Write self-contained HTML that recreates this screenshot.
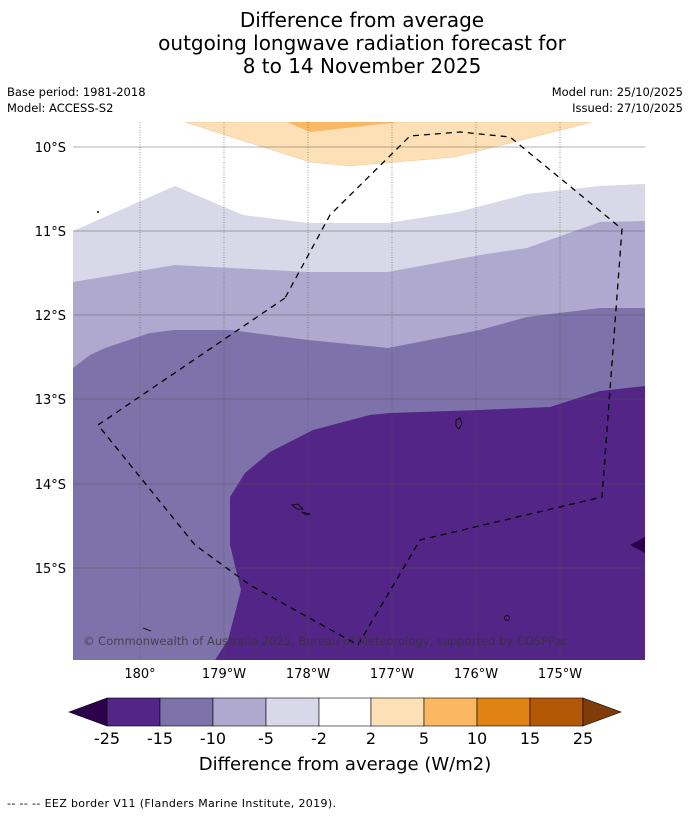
<!DOCTYPE html>
<html><head><meta charset="utf-8"><style>
body{margin:0;background:#fff;font-family:"DejaVu Sans","Liberation Sans",sans-serif;}
svg{display:block}
</style></head><body>
<svg width="690" height="816" viewBox="0 0 690 816" font-family="DejaVu Sans, Liberation Sans, sans-serif">
<text x="362" y="27" font-size="20" text-anchor="middle">Difference from average</text>
<text x="362" y="50" font-size="20" text-anchor="middle">outgoing longwave radiation forecast for</text>
<text x="362" y="73" font-size="20" text-anchor="middle">8 to 14 November 2025</text>
<text x="7" y="96" font-size="11.5">Base period: 1981-2018</text>
<text x="7" y="112" font-size="11.5">Model: ACCESS-S2</text>
<text x="683" y="96" font-size="11.5" text-anchor="end">Model run: 25/10/2025</text>
<text x="683" y="112" font-size="11.5" text-anchor="end">Issued: 27/10/2025</text>
<defs><clipPath id="mc"><rect x="73" y="122" width="572" height="538"/></clipPath></defs>
<g clip-path="url(#mc)">
<rect x="73" y="122" width="572" height="538" fill="#fff"/>
<polygon fill="#d8d8e8" points="73,231 175,186 243,215 308,223 388,223 458,212 527,194 600,186 645,184 645,660 73,660"/>
<polygon fill="#b0a9cf" points="73,282 175,265 308,272 388,272 480,255 527,248 600,222 645,221 645,660 73,660"/>
<polygon fill="#7e72aa" points="73,368 90,355 105,348 150,333 175,330 230,330 308,340 388,348 480,330 527,317 600,308 645,308 645,660 73,660"/>
<polygon fill="#532586" points="645,386 600,391 550,407 480,410 390,413 370,415 313,430 270,452 245,473 230,497 230,545 241,590 228,640 215,660 645,660"/>
<polygon fill="#2d004b" points="630,545 645,537 645,553"/>
<polygon fill="#fee0b6" stroke="#f0c89a" stroke-width="0.6" points="185,122 310,162 350,166 455,157 592,122"/>
<polygon fill="#fbb863" points="287,122 310,132 400,122"/>
<g stroke="#555" stroke-opacity="0.45" stroke-width="1">
<line x1="73" y1="147" x2="645" y2="147"/><line x1="73" y1="231" x2="645" y2="231"/><line x1="73" y1="315" x2="645" y2="315"/><line x1="73" y1="399" x2="645" y2="399"/><line x1="73" y1="484" x2="645" y2="484"/><line x1="73" y1="568" x2="645" y2="568"/>
</g>
<g stroke="#555" stroke-opacity="0.7" stroke-width="0.8" stroke-dasharray="1,1.5">
<line x1="140" y1="122" x2="140" y2="660"/><line x1="224" y1="122" x2="224" y2="660"/><line x1="308" y1="122" x2="308" y2="660"/><line x1="392" y1="122" x2="392" y2="660"/><line x1="476" y1="122" x2="476" y2="660"/><line x1="560" y1="122" x2="560" y2="660"/>
</g>
<polyline fill="none" stroke="#000" stroke-width="1.3" stroke-dasharray="6,5" points="285,298 98,425 195,545 250,585 358,645 420,540 602,497 622,229 510,137 460,132 410,136 330,215 285,298"/>
<g fill="none" stroke="#000" stroke-width="0.8">
<path d="M456,420 l4,-2 l2,6 l-3,5 l-3,-3z"/>
<path d="M292,505 l6,-1 l5,5 l-6,0z"/><path d="M302,512 l8,2 l-4,1z"/>
<circle cx="507" cy="618" r="2.5"/><path d="M143,628 l8,3"/><circle cx="98" cy="212" r="0.6"/>
</g>
<text x="83" y="645" font-size="11.5" fill="#333" fill-opacity="0.75" textLength="485">© Commonwealth of Australia 2025, Bureau of Meteorology, supported by COSPPac</text>
</g>
<g font-size="13" text-anchor="end">
<text x="66" y="152">10°S</text><text x="66" y="236">11°S</text><text x="66" y="320">12°S</text><text x="66" y="404">13°S</text><text x="66" y="489">14°S</text><text x="66" y="573">15°S</text>
</g>
<g font-size="13" text-anchor="middle">
<text x="140" y="678">180°</text><text x="224" y="678">179°W</text><text x="308" y="678">178°W</text><text x="392" y="678">177°W</text><text x="476" y="678">176°W</text><text x="560" y="678">175°W</text>
</g>
<g stroke="#000" stroke-width="0.6">
<polygon fill="#2d004b" points="69,712 107,698 107,726"/>
<rect x="107" y="698" width="53" height="28" fill="#532586"/>
<rect x="160" y="698" width="53" height="28" fill="#7e72aa"/>
<rect x="213" y="698" width="53" height="28" fill="#b0a9cf"/>
<rect x="266" y="698" width="53" height="28" fill="#d8d8e8"/>
<rect x="319" y="698" width="52" height="28" fill="#ffffff"/>
<rect x="371" y="698" width="53" height="28" fill="#fee0b6"/>
<rect x="424" y="698" width="53" height="28" fill="#fbb863"/>
<rect x="477" y="698" width="53" height="28" fill="#e08214"/>
<rect x="530" y="698" width="53" height="28" fill="#b35806"/>
<polygon fill="#7f3b08" points="583,698 621,712 583,726"/>
</g>
<g font-size="16" text-anchor="middle">
<text x="107" y="744">-25</text><text x="160" y="744">-15</text><text x="213" y="744">-10</text><text x="266" y="744">-5</text><text x="319" y="744">-2</text><text x="371" y="744">2</text><text x="424" y="744">5</text><text x="477" y="744">10</text><text x="530" y="744">15</text><text x="583" y="744">25</text>
</g>
<text x="345" y="770" font-size="18" text-anchor="middle">Difference from average (W/m2)</text>
<text x="7" y="807" font-size="11" textLength="329">--  --  -- EEZ border V11 (Flanders Marine Institute, 2019).</text>
</svg>
</body></html>
